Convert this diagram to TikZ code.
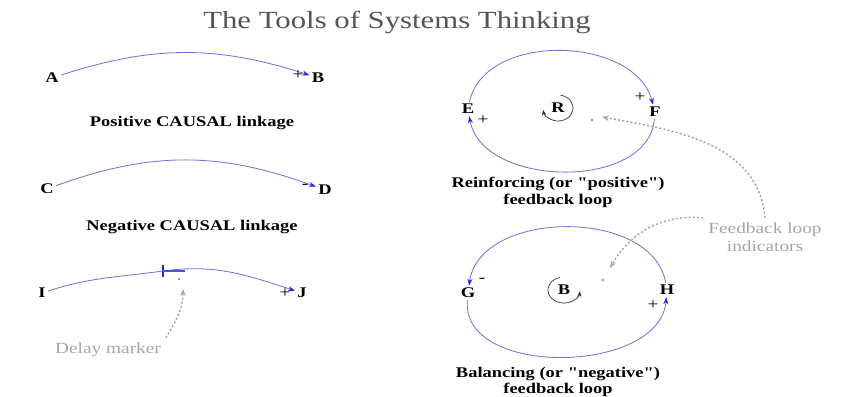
\documentclass[tikz,border=0pt]{standalone}
\usepackage{fontspec}
\setmainfont{Liberation Serif}[FakeStretch=1.25, Ligatures=TeXOff]
\usetikzlibrary{arrows.meta}
\definecolor{linkblue}{RGB}{115,115,220}
\definecolor{tipblue}{RGB}{30,40,225}
\definecolor{titlegray}{RGB}{85,85,85}
\definecolor{notegray}{RGB}{165,165,165}

\begin{document}
\begin{tikzpicture}[
    x=0.025cm, y=0.025cm,
    var/.style={font=\fontsize{10.5}{12}\selectfont\bfseries, inner sep=1.5pt},
    caption/.style={font=\fontsize{10.5}{12}\selectfont\bfseries, align=center},
    note/.style={text=notegray, font=\fontsize{11}{12.5}\selectfont, align=center},
    sign/.style={font=\fontsize{11}{11}\selectfont, inner sep=0pt},
    link/.style={draw=linkblue, line width=0.6pt, -{Stealth[length=5pt, width=3.5pt, color=tipblue]}},
    indicator/.style={draw=black!80, line width=0.5pt, -{Stealth[length=4pt, width=3pt]}},
    pointer/.style={draw=notegray, line width=1pt, dash pattern=on 1.5pt off 1.5pt, -{Stealth[length=5pt, width=4pt]}},
    dot/.style={circle, fill=black!55, inner sep=0pt, minimum size=1.5pt}
  ]
  \useasboundingbox (0,0) rectangle (843,396);
  \node[font=\fontsize{17.5}{20}\selectfont, text=titlegray] (title) at (397,374) {The Tools of Systems Thinking};

  \node[var] (A) at (52,318) {A};
  \node[var] (B) at (318,318) {B};
  \draw[link] (A) to[out=18,in=162] (B);
  \node[sign] (sAB) at (298,321) {+};
  \node[caption] (poscap) at (192,273) {Positive CAUSAL linkage};

  \node[var] (C) at (47,207) {C};
  \node[var] (D) at (325,206) {D};
  \draw[link] (C) to[out=20,in=160] (D);
  \node[sign] (sCD) at (305,210) {-};
  \node[caption] (negcap) at (192,169) {Negative CAUSAL linkage};

  \node[var] (I) at (42,103) {I};
  \node[var] (J) at (302,103) {J};
  \coordinate (dl) at (163,125);
  \draw[link] (I) to[out=18,in=188] (dl) to[out=8,in=162] (J);
  \draw[tipblue, line width=1.8pt] (dl) ++(0,-6) -- ++(0,12);
  \draw[tipblue!80, line width=0.8pt] (dl) -- ++(22,0);
  \node[sign] (sIJ) at (285,103) {+};
  \node[dot] (ddot) at (179,117) {};
  \node[note] (dnote) at (108,46) {Delay marker};
  \coordinate (dtip) at (183,107);
  \draw[pointer] (dnote.north east) to[out=60,in=-90] (dtip);

  \node[var] (E) at (468,287) {E};
  \node[var] (F) at (655,284) {F};
  \draw[link] (E) to[out=78,in=105] (F);
  \draw[link] (F) to[out=-95,in=-80] (E);
  \node[sign] (sEF) at (640,299) {+};
  \node[sign] (sFE) at (483,276) {+};
  \node[var] (rloop) at (558,288) {R};
  \draw[indicator] (rloop.center) ++(80:15 and 13) arc[start angle=80, end angle=-172, x radius=15, y radius=13];
  \node[caption] (rcap) at (558,204) {Reinforcing (or "positive")\\feedback loop};

  \node[var] (G) at (468,103) {G};
  \node[var] (H) at (667,106) {H};
  \draw[link] (H) to[out=100,in=82] (G);
  \draw[link] (G) to[out=-95,in=-95] (H);
  \node[sign] (sHG) at (482,116) {-};
  \node[sign] (sGH) at (653,91) {+};
  \node[var] (bloop) at (564,106) {B};
  \draw[indicator] (bloop.center) ++(105:16 and 13) arc[start angle=105, end angle=355, x radius=16, y radius=13];
  \node[caption] (bcap) at (558,14) {Balancing (or "negative")\\feedback loop};

  \node[dot] (rdot) at (592,276) {};
  \node[dot] (bdot) at (603,116) {};
  \node[note] (fbnote) at (765,159) {Feedback loop\\indicators};
  \coordinate (rtip) at (602,279);
  \coordinate (btip) at (610,128);
  \draw[pointer] (fbnote.north) to[out=95,in=-10] (rtip);
  \draw[pointer] (fbnote.north west) to[out=175,in=60] (btip);
\end{tikzpicture}
\end{document}
